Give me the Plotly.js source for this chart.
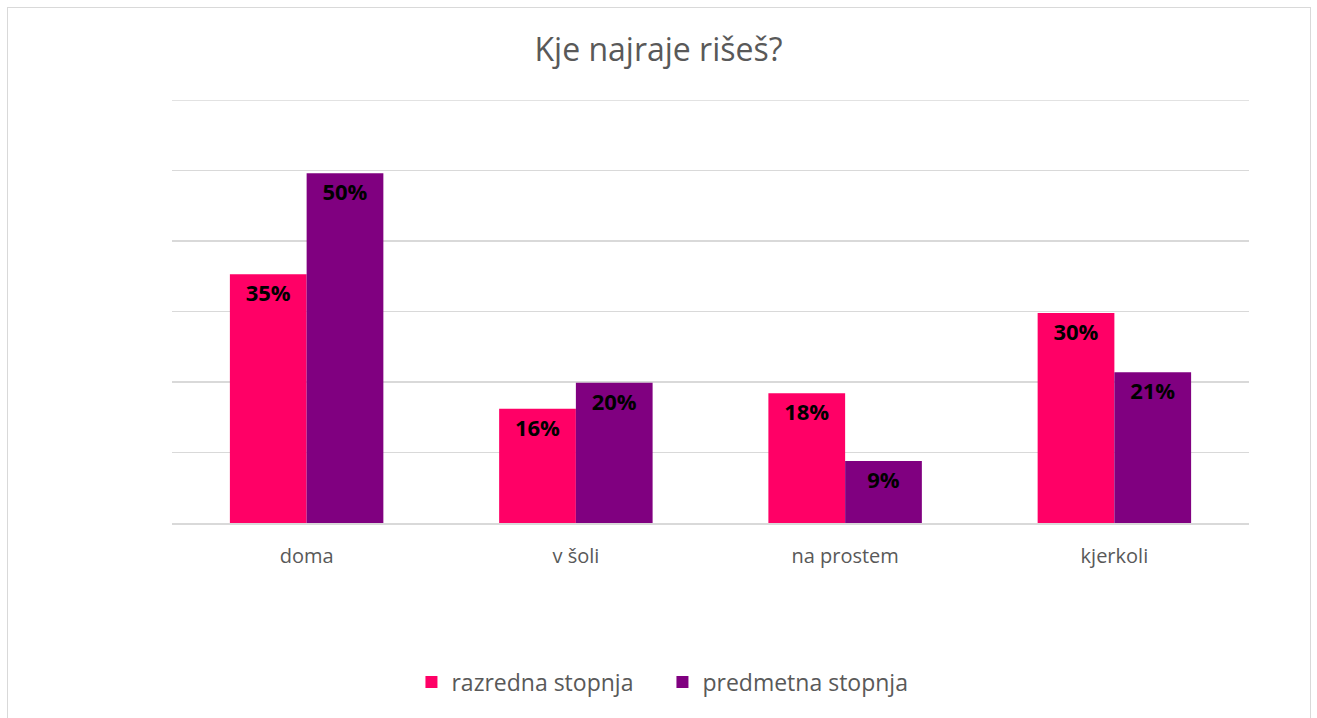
<!DOCTYPE html>
<html>
<head>
<meta charset="utf-8">
<script src="https://cdn.plot.ly/plotly-3.0.1.min.js"></script>
<style>
html,body{margin:0;padding:0;background:#fff;}
#wrap{position:relative;width:1317px;height:718px;}
#chart{width:1317px;height:718px;}
#frame{position:absolute;left:7px;top:7px;width:1302px;height:720px;border:1px solid #d9d9d9;pointer-events:none;}
</style>
</head>
<body>
<div id="wrap"><div id="chart"></div><div id="frame"></div></div>
<script>
const categories = ["doma", "v šoli", "na prostem", "kjerkoli"];
const seriesNames = ["razredna stopnja", "predmetna stopnja"];
const razredna = [0.353, 0.162, 0.184, 0.298];
const predmetna = [0.496, 0.199, 0.088, 0.214];
const colors = ["#FF0066", "#800080"];
const FONT = "'Open Sans', 'Noto Sans', sans-serif";

function trace(name, vals, color) {
  return {
    type: "bar", name: name, x: categories, y: vals,
    marker: {color: color},
    texttemplate: "%{y:.0%}", textposition: "inside", insidetextanchor: "end",
    textangle: 0, constraintext: "none",
    textfont: {family: FONT, size: 22, color: "#000", weight: "bold"},
    hoverinfo: "skip"
  };
}

const data = [trace(seriesNames[0], razredna, colors[0]), trace(seriesNames[1], predmetna, colors[1])];

const layout = {
  width: 1317, height: 718,
  margin: {l: 172, r: 68, t: 100, b: 195},
  paper_bgcolor: "#fff", plot_bgcolor: "#fff",
  font: {family: FONT, color: "#595959"},
  title: {text: "Kje najraje rišeš?", x: 0.5, xref: "container", y: 0.93, yref: "container", yanchor: "middle",
          font: {family: FONT, size: 32, color: "#595959"}},
  barmode: "group", bargap: 0.43, bargroupgap: 0,
  xaxis: {showgrid: false, showline: true, linecolor: "#d9d9d9", linewidth: 1.5, ticks: "",
          tickfont: {family: FONT, size: 20, color: "#595959"}, ticklabelstandoff: 14},
  yaxis: {range: [0, 0.6], dtick: 0.1, showticklabels: false, showgrid: true, gridcolor: "#d9d9d9", gridwidth: 1.5,
          zeroline: false, showline: false, fixedrange: true},
  shapes: [{type: "line", xref: "paper", x0: 0, x1: 1, yref: "y", y0: 0.6, y1: 0.6,
            line: {color: "#d9d9d9", width: 1.5}, layer: "below"}],
  showlegend: true,
  legend: {orientation: "h", x: 0.503, xref: "container", xanchor: "center", y: 0.05, yref: "container", yanchor: "middle",
           font: {family: FONT, size: 23, color: "#595959"}, itemwidth: 30, entrywidth: 206, traceorder: "normal"}
};

Plotly.newPlot("chart", data, layout, {displayModeBar: false, staticPlot: true});
</script>
</body>
</html>
